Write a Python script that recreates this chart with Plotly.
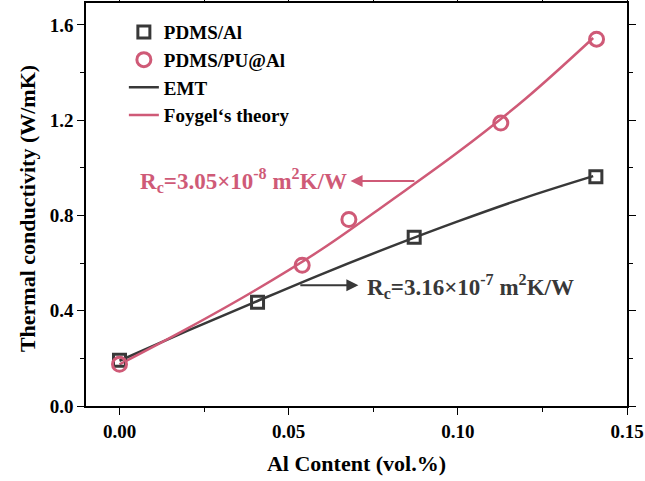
import plotly.graph_objects as go

# Measured data
al_x = [0.0, 0.0408, 0.0871, 0.1408]
al_y = [0.192, 0.436, 0.708, 0.962]

pu_x = [0.0, 0.054, 0.0678, 0.1127, 0.141]
pu_y = [0.175, 0.591, 0.783, 1.188, 1.540]

# Theory curves
emt_x = [0.0, 0.02, 0.04, 0.06, 0.08, 0.10, 0.12, 0.14]
emt_y = [0.19, 0.315, 0.436, 0.555, 0.668, 0.775, 0.875, 0.965]

foy_x = [0.0, 0.02, 0.04, 0.06, 0.08, 0.10, 0.12, 0.14]
foy_y = [0.175, 0.325, 0.485, 0.66, 0.86, 1.065, 1.29, 1.545]

x_ticks = [0.0, 0.05, 0.10, 0.15]
x_labels = ["0.00", "0.05", "0.10", "0.15"]
y_ticks = [0.0, 0.4, 0.8, 1.2, 1.6]
y_labels = ["0.0", "0.4", "0.8", "1.2", "1.6"]

DARK = "#383838"
PINK = "#cf5a77"
FONT = "Liberation Serif"

fig = go.Figure()
fig.add_trace(go.Scatter(x=emt_x, y=emt_y, mode="lines", name="EMT",
                         line=dict(color=DARK, width=2.5, shape="spline"), legendrank=3))
fig.add_trace(go.Scatter(x=foy_x, y=foy_y, mode="lines", name="Foygel‘s theory",
                         line=dict(color=PINK, width=2.5, shape="spline"), legendrank=4))
fig.add_trace(go.Scatter(x=al_x, y=al_y, mode="markers", name="PDMS/Al",
                         marker=dict(symbol="square-open", size=12, color=DARK,
                                     line=dict(width=3, color=DARK)), legendrank=1))
fig.add_trace(go.Scatter(x=pu_x, y=pu_y, mode="markers", name="PDMS/PU@Al",
                         marker=dict(symbol="circle-open", size=14, color=PINK,
                                     line=dict(width=3, color=PINK)), legendrank=2))

# Arrows
fig.add_annotation(x=0.0683, y=0.945, ax=0.0876, ay=0.945, xref="x", yref="y",
                   axref="x", ayref="y", text="", showarrow=True, arrowhead=2,
                   arrowsize=1.2, arrowwidth=2, arrowcolor=PINK)
fig.add_annotation(x=0.0706, y=0.507, ax=0.053, ay=0.507, xref="x", yref="y",
                   axref="x", ayref="y", text="", showarrow=True, arrowhead=2,
                   arrowsize=1.2, arrowwidth=2, arrowcolor=DARK)
# Labels
fig.add_annotation(x=0.0677, y=0.945, xref="x", yref="y", xanchor="right", yanchor="middle",
                   text="R<sub>c</sub>=3.05×10<sup>-8</sup> m<sup>2</sup>K/W", showarrow=False,
                   font=dict(family=FONT, size=23, color=PINK, weight="bold"))
fig.add_annotation(x=0.0726, y=0.5, xref="x", yref="y", xanchor="left", yanchor="middle",
                   text="R<sub>c</sub>=3.16×10<sup>-7</sup> m<sup>2</sup>K/W", showarrow=False,
                   font=dict(family=FONT, size=23, color=DARK, weight="bold"))
# Y axis title (placed as rotated text for exact position)
fig.add_annotation(x=-0.108, y=0.49, xref="paper", yref="paper", xanchor="center",
                   yanchor="middle", textangle=-90, showarrow=False,
                   text="Thermal conductivity (W/mK)",
                   font=dict(family=FONT, size=22, color="black", weight="bold"))

axis_common = dict(showline=True, linecolor="black", linewidth=1.5, mirror="allticks",
                   ticks="outside", ticklen=7, tickwidth=1.3, tickcolor="black",
                   showgrid=False, zeroline=False, automargin=False,
                   tickfont=dict(family=FONT, size=19, color="black", weight="bold"))

fig.update_xaxes(range=[-0.0099, 0.15], tickvals=x_ticks, ticktext=x_labels,
                 title=dict(text="Al Content (vol.%)",
                            font=dict(family=FONT, size=22, color="black", weight="bold")),
                 minor=dict(dtick=0.025, tick0=0, ticks="outside", ticklen=4, tickcolor="black"),
                 **axis_common)
fig.update_yaxes(range=[0.0, 1.692], tickvals=y_ticks, ticktext=y_labels,
                 minor=dict(dtick=0.2, tick0=0, ticks="outside", ticklen=4, tickcolor="black"),
                 **axis_common)

fig.update_layout(
    width=645, height=481,
    margin=dict(l=86, r=18, t=3, b=75),
    paper_bgcolor="white", plot_bgcolor="white",
    font=dict(family=FONT, color="black"),
    legend=dict(x=0.07, y=0.975, xanchor="left", yanchor="top",
                bgcolor="rgba(0,0,0,0)", itemwidth=30,
                font=dict(family=FONT, size=19, color="black", weight="bold"),
                tracegroupgap=0),
    showlegend=True,
)

fig.write_html("out.html", config={"displayModeBar": False},
               post_script="document.body.style.margin='0';")
